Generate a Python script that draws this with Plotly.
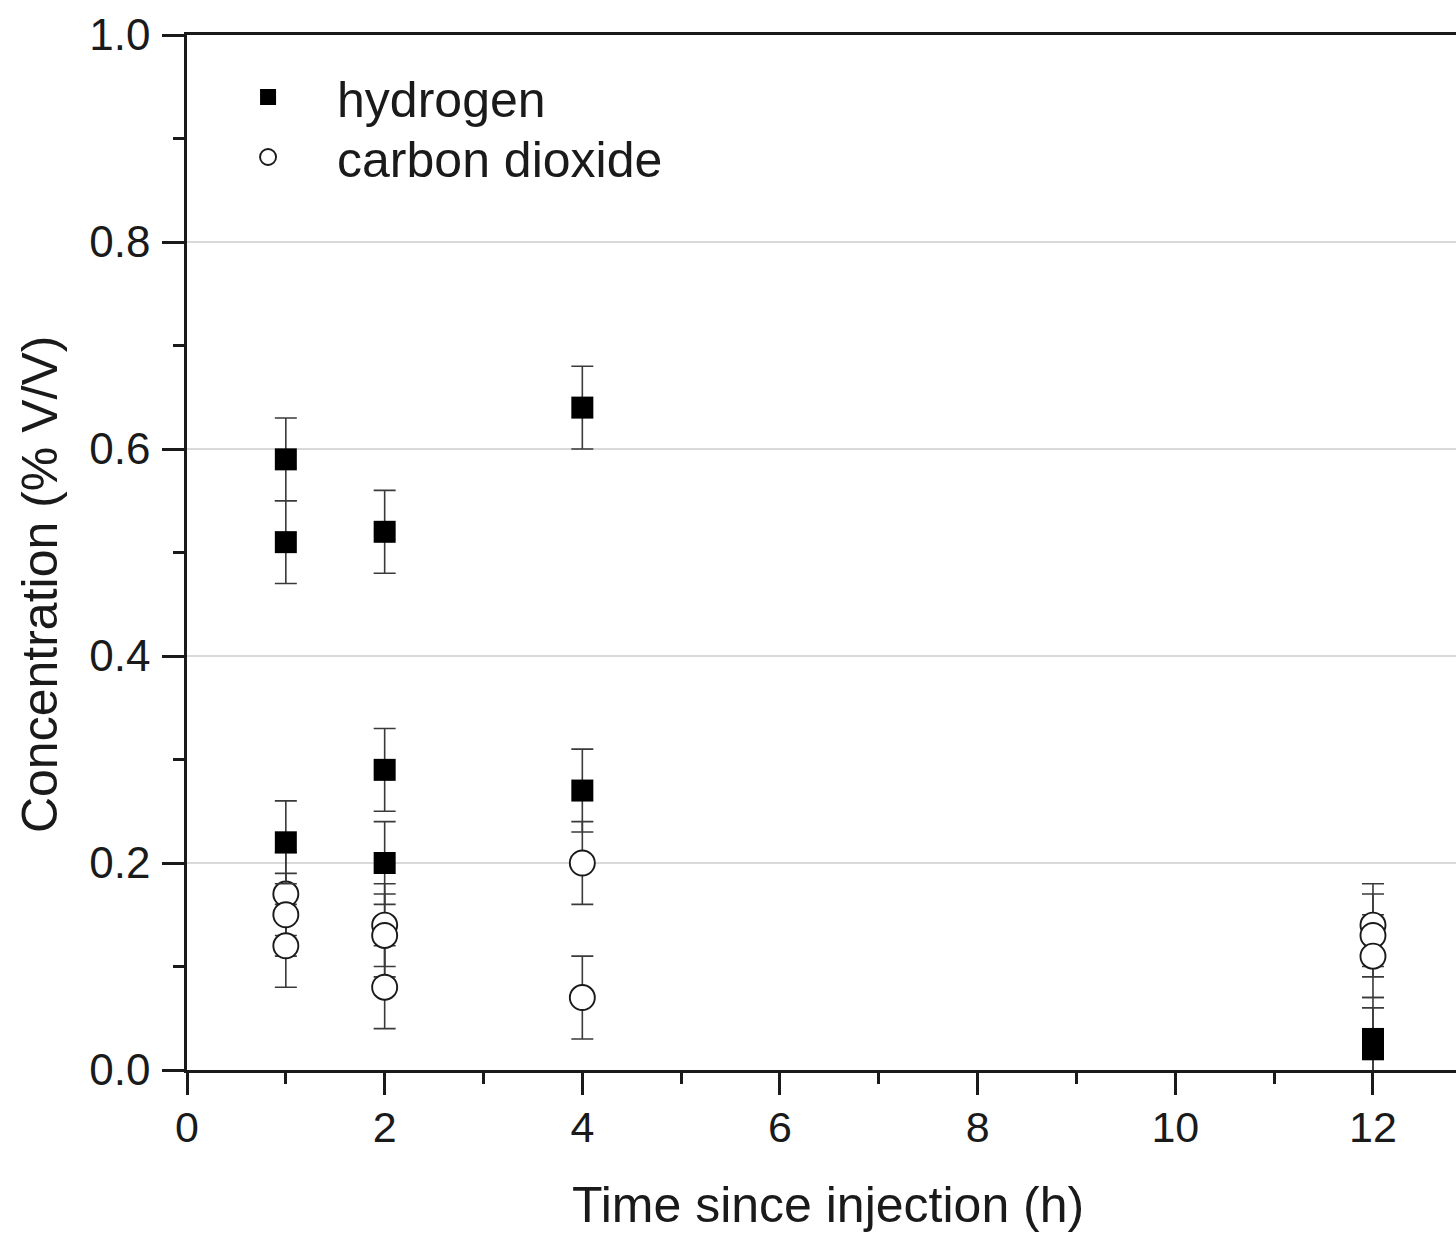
import plotly.graph_objects as go

# ---- data ----
hydrogen_x = [1, 1, 1, 2, 2, 2, 4, 4, 12, 12]
hydrogen_y = [0.59, 0.51, 0.22, 0.52, 0.29, 0.20, 0.64, 0.27, 0.03, 0.02]
hydrogen_err = [0.04, 0.04, 0.04, 0.04, 0.04, 0.04, 0.04, 0.04, 0.04, 0.04]

co2_x = [1, 1, 1, 2, 2, 2, 4, 4, 12, 12, 12]
co2_y = [0.17, 0.15, 0.12, 0.14, 0.13, 0.08, 0.20, 0.07, 0.14, 0.13, 0.11]
co2_err = [0.04, 0.04, 0.04, 0.04, 0.04, 0.04, 0.04, 0.04, 0.04, 0.04, 0.04]

x_title = "Time since injection (h)"
y_title = "Concentration (% V/V)"

FONT = "Liberation Sans, Arial, sans-serif"
INK = "#1a1a1a"
ERR = "#3a3a3a"

fig = go.Figure()

fig.add_trace(go.Scatter(
    x=co2_x, y=co2_y, mode="markers", name="carbon dioxide",
    legend="legend2",
    marker=dict(symbol="circle", size=25, color="white",
                line=dict(color=INK, width=1.9)),
    error_y=dict(type="data", array=co2_err, visible=True,
                 color=ERR, thickness=1.6, width=11),
))
fig.add_trace(go.Scatter(
    x=hydrogen_x, y=hydrogen_y, mode="markers", name="hydrogen",
    legend="legend",
    marker=dict(symbol="square", size=22, color="black",
                line=dict(color="black", width=0)),
    error_y=dict(type="data", array=hydrogen_err, visible=True,
                 color=ERR, thickness=1.6, width=11),
))

legend_common = dict(
    xanchor="left", yanchor="middle",
    bgcolor="rgba(0,0,0,0)", borderwidth=0,
    font=dict(family=FONT, size=50, color=INK),
    itemwidth=128,
)

fig.update_layout(
    width=1456, height=1235,
    margin=dict(l=187, r=0, t=35, b=165),
    paper_bgcolor="white", plot_bgcolor="white",
    font=dict(family=FONT, color=INK, size=41),
    showlegend=True,
    legend=dict(x=0.0095, y=(1070 - 97) / 1035, **legend_common),
    legend2=dict(x=0.0095, y=(1070 - 157) / 1035, **legend_common),
    xaxis=dict(
        range=[0, 12.84], tickmode="linear", tick0=0, dtick=2,
        showline=True, linecolor=INK, linewidth=2.5, mirror=True,
        ticks="outside", ticklen=22, tickwidth=2.5, tickcolor=INK,
        showgrid=False, zeroline=False, ticklabelstandoff=-4,
        tickfont=dict(family=FONT, size=43, color=INK),
        minor=dict(dtick=1, ticks="outside", ticklen=11, tickwidth=2.5,
                   tickcolor=INK, showgrid=False),
    ),
    yaxis=dict(
        range=[0, 1.0], tickmode="linear", tick0=0, dtick=0.2,
        tickformat=".1f",
        showline=True, linecolor=INK, linewidth=2.5, mirror=False,
        ticks="outside", ticklen=22, tickwidth=2.5, tickcolor=INK,
        showgrid=True, gridcolor="#d9d9d9", gridwidth=2,
        zeroline=False, ticklabelstandoff=3,
        tickfont=dict(family=FONT, size=44, color=INK),
        minor=dict(dtick=0.1, ticks="outside", ticklen=11, tickwidth=2.5,
                   tickcolor=INK, showgrid=False),
    ),
    annotations=[
        dict(text=x_title, xref="paper", yref="paper",
             x=0.505, y=-0.130, xanchor="center", yanchor="middle",
             showarrow=False, font=dict(family=FONT, size=50, color=INK)),
        dict(text=y_title, xref="paper", yref="paper",
             x=-0.1158, y=0.4686, xanchor="center", yanchor="middle",
             textangle=-90,
             showarrow=False, font=dict(family=FONT, size=50, color=INK)),
    ],
)

fig.write_html("out.html")
